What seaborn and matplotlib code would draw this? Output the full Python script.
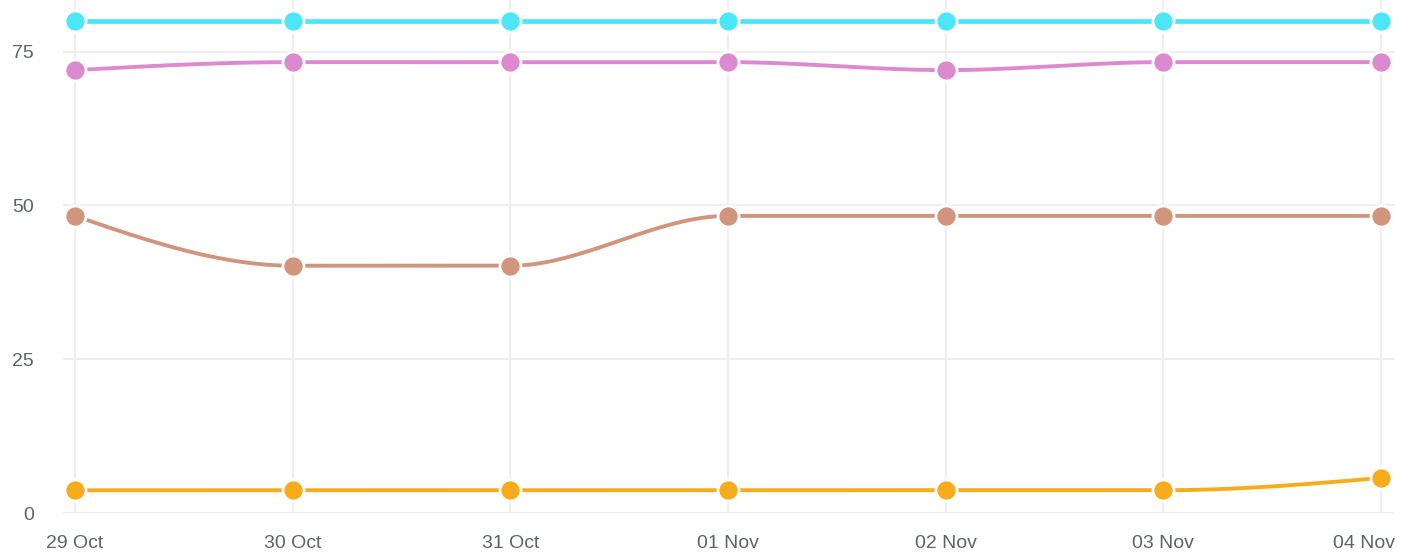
import numpy as np
import pandas as pd
import matplotlib
matplotlib.use("Agg")
import matplotlib.pyplot as plt
import matplotlib.transforms as mtransforms
import seaborn as sns

dates = ["29 Oct", "30 Oct", "31 Oct", "01 Nov", "02 Nov", "03 Nov", "04 Nov"]
cyan_vals = [80, 80, 80, 80, 80, 80, 80]
pink_vals = [72.0, 73.3, 73.3, 73.3, 72.0, 73.3, 73.3]
brown_vals = [48.3, 40.2, 40.2, 48.3, 48.3, 48.3, 48.3]
orange_vals = [3.7, 3.7, 3.7, 3.7, 3.7, 3.7, 5.7]

series = [
    ("orange", orange_vals, "#f8ac1b", 2.8),
    ("brown", brown_vals, "#d0957c", 2.8),
    ("pink", pink_vals, "#dc89cf", 2.8),
    ("cyan", cyan_vals, "#4ce6f8", 3.4),
]


def monotone_curve(x, y, n=40):
    # monotone cubic (same idea as d3 curveMonotoneX)
    x = np.asarray(x, float)
    y = np.asarray(y, float)
    h = np.diff(x)
    s = np.diff(y) / h
    t = np.zeros(len(x))
    for i in range(1, len(x) - 1):
        p = (s[i - 1] * h[i] + s[i] * h[i - 1]) / (h[i - 1] + h[i])
        t[i] = (np.sign(s[i - 1]) + np.sign(s[i])) * min(abs(s[i - 1]), abs(s[i]), 0.5 * abs(p))
    t[0] = (3 * s[0] - t[1]) / 2
    t[-1] = (3 * s[-1] - t[-2]) / 2
    xs, ys = [], []
    for i in range(len(x) - 1):
        u = np.linspace(0, 1, n)
        h00 = 2 * u**3 - 3 * u**2 + 1
        h10 = u**3 - 2 * u**2 + u
        h01 = -2 * u**3 + 3 * u**2
        h11 = u**3 - u**2
        xs.append(x[i] + u * h[i])
        ys.append(h00 * y[i] + h10 * h[i] * t[i] + h01 * y[i + 1] + h11 * h[i] * t[i + 1])
    return np.concatenate(xs), np.concatenate(ys)


sns.set_style("white")
plt.rcParams["font.family"] = ["Liberation Sans", "DejaVu Sans"]

fig = plt.figure(figsize=(14.13, 5.56), dpi=100)
ax = fig.add_axes([63 / 1413, 43 / 556, 1332 / 1413, 513 / 556])

xpos = np.arange(len(dates))
for name, vals, color, lw in series:
    cx, cy = monotone_curve(xpos, vals)
    ax.plot(cx, cy, color=color, lw=lw, zorder=3, solid_capstyle="round")
    df = pd.DataFrame({"x": xpos, "y": vals})
    sns.scatterplot(data=df, x="x", y="y", ax=ax, color=color, s=230,
                    edgecolor="white", linewidth=2, zorder=4, legend=False)

ax.set_xlim(-0.055, 6.064)
ax.set_ylim(0, 83.4)
ax.set_xticks(xpos)
ax.set_xticklabels(dates)
ax.set_yticks([0, 25, 50, 75])
ax.set_xlabel("")
ax.set_ylabel("")
ax.grid(True, color="#eeeeee", lw=1.5)
ax.set_axisbelow(True)
for sp in ax.spines.values():
    sp.set_visible(False)
ax.tick_params(axis="both", length=0, labelsize=14, labelcolor="#5f6368")
ax.tick_params(axis="y", pad=21)
ax.tick_params(axis="x", pad=16)
for lab in ax.get_yticklabels():
    lab.set_horizontalalignment("right")

# last date label kept inside the canvas
last = ax.get_xticklabels()[-1]
last.set_horizontalalignment("right")
last.set_transform(last.get_transform() + mtransforms.ScaledTranslation(14 / 100, 0, fig.dpi_scale_trans))

fig.savefig("out.png", dpi=100)
